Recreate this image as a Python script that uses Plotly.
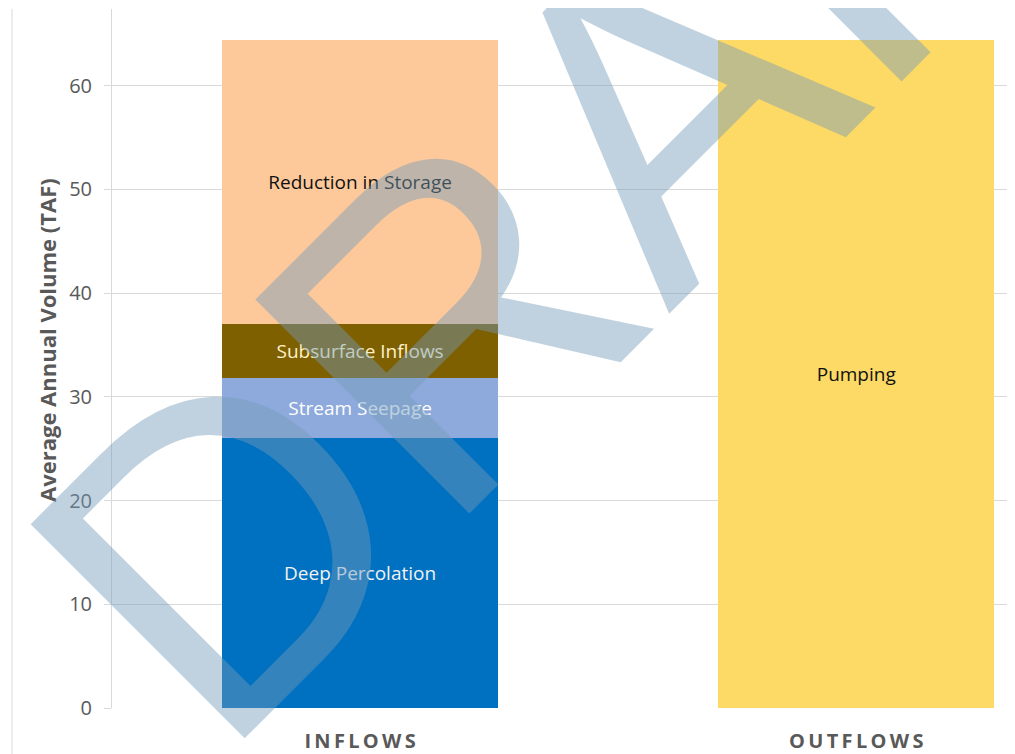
import plotly.graph_objects as go

categories = ["INFLOWS", "OUTFLOWS"]
category_labels = ["I\u2009N\u2009F\u2009L\u2009O\u2009W\u2009S", "O\u2009U\u2009T\u2009F\u2009L\u2009O\u2009W\u2009S"]

series_names = ["Deep Percolation", "Stream Seepage", "Subsurface Inflows", "Reduction in Storage", "Pumping"]
deep_percolation = [26.0, 0]
stream_seepage = [5.8, 0]
subsurface_inflows = [5.2, 0]
reduction_in_storage = [27.4, 0]
pumping = [0, 64.4]

series_values = [deep_percolation, stream_seepage, subsurface_inflows, reduction_in_storage, pumping]
series_colors = ["#0070C0", "#8EA9DB", "#7F6000", "#FDC99B", "#FDD966"]
text_colors = ["#F2F2F2", "#FFFFFF", "#FFF2CC", "#111111", "#111111"]

y_ticks = [0, 10, 20, 30, 40, 50, 60]

FONT = "Open Sans, Noto Sans, sans-serif"

# page body has an 8px margin: the figure is sized/offset to compensate
OFF = 8
W, H = 1015 - OFF, 754 - OFF
L, T, B = 112 - OFF, 9 - OFF, 46
PW = W - L          # plot width in px
PH = H - T - B      # plot height in px


def px(xp):
    return (xp - 112) / PW


def py(yp):
    return (708 - yp) / PH


fig = go.Figure()
for name, vals, col, tcol in zip(series_names, series_values, series_colors, text_colors):
    fig.add_trace(go.Bar(
        name=name,
        x=categories,
        y=vals,
        marker=dict(color=col, line=dict(width=0)),
        text=[name if v > 0 else "" for v in vals],
        textposition="inside",
        insidetextanchor="middle",
        textangle=0,
        textfont=dict(family=FONT, size=19, color=tcol),
        constraintext="none",
        hoverinfo="skip",
    ))

fig.update_layout(
    barmode="stack",
    bargap=0.444,
    width=W,
    height=H,
    margin=dict(l=L, r=0, t=T, b=B),
    paper_bgcolor="white",
    plot_bgcolor="white",
    showlegend=False,
    xaxis=dict(
        range=[-0.5, 1.32],
        tickvals=categories,
        ticktext=category_labels,
        showgrid=False,
        showline=False,
        zeroline=False,
        ticks="",
        ticklabelstandoff=19,
        tickfont=dict(family=FONT, size=20, color="#595959", weight="bold"),
    ),
    yaxis=dict(
        range=[0, 67.4],
        tickvals=y_ticks,
        showgrid=True,
        gridcolor="#D9D9D9",
        gridwidth=1,
        showline=True,
        linecolor="#D9D9D9",
        linewidth=1,
        zeroline=False,
        ticks="outside",
        ticklen=7,
        tickcolor="#D9D9D9",
        ticklabelstandoff=8,
        tickfont=dict(family=FONT, size=20, color="#595959"),
    ),
    shapes=[dict(
        type="line", xref="paper", yref="paper",
        x0=px(12), x1=px(12), y0=-B / PH, y1=1.0,
        line=dict(color="#D9D9D9", width=1),
    )],
    annotations=[
        dict(
            text="Average Annual Volume (TAF)",
            xref="paper", yref="paper",
            x=px(47), y=py(340),
            xanchor="center", yanchor="middle",
            textangle=-90, showarrow=False,
            font=dict(family=FONT, size=22, color="#595959", weight="bold"),
        ),
        dict(
            text="DRAFT",
            xref="paper", yref="paper",
            x=px(630), y=py(138),
            xanchor="center", yanchor="middle",
            textangle=-45, showarrow=False,
            font=dict(family="Liberation Sans, Arial, sans-serif", size=440,
                      color="rgba(115, 155, 186, 0.45)"),
        ),
    ],
)

fig.write_html("out.html")
